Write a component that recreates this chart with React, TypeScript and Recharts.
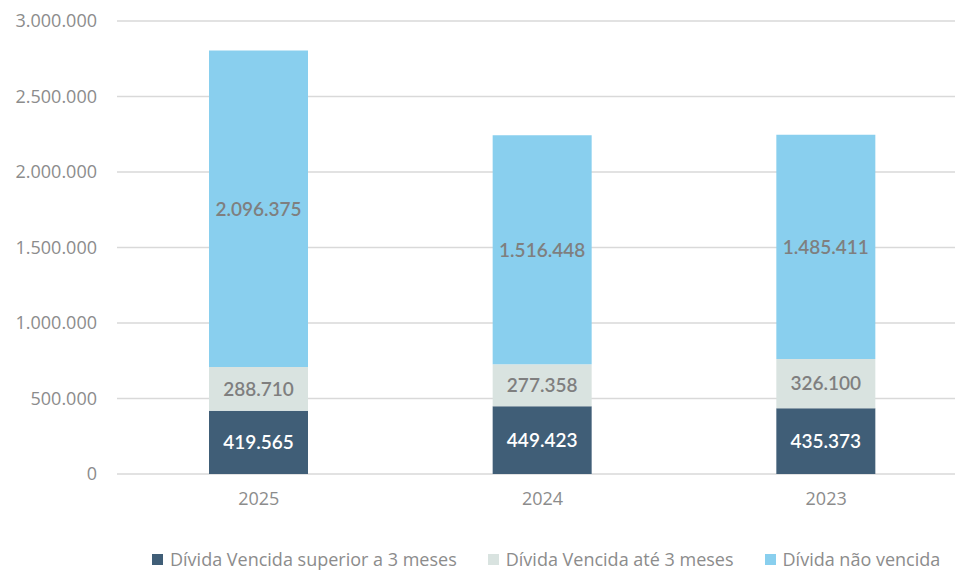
import { BarChart, Bar, XAxis, YAxis, CartesianGrid, Legend, LabelList } from "recharts";

const years = ["2025", "2024", "2023"];
const vencidaSuperior = [419565, 449423, 435373];
const vencidaAte3 = [288710, 277358, 326100];
const naoVencida = [2096375, 1516448, 1485411];
const yTicks = [0, 500000, 1000000, 1500000, 2000000, 2500000, 3000000];

const series = [
  { key: "superior", name: "Dívida Vencida superior a 3 meses", color: "#405E77", label: "#FFFFFF" },
  { key: "ate3", name: "Dívida Vencida até 3 meses", color: "#D9E3E0", label: "#7F7F7F" },
  { key: "naoVencida", name: "Dívida não vencida", color: "#89CFEE", label: "#7F7F7F" },
];

const data = years.map((year, i) => ({
  year,
  superior: vencidaSuperior[i],
  ate3: vencidaAte3[i],
  naoVencida: naoVencida[i],
}));

const fmt = (v: any) => String(v).replace(/\B(?=(\d{3})+(?!\d))/g, ".");

const font = "'Open Sans', sans-serif";

const LegendContent = () => (
  <div style={{ display: "flex", flexWrap: "nowrap", whiteSpace: "nowrap", paddingLeft: 152, fontFamily: font, fontSize: 18, color: "#8C8C8C" }}>
    {series.map((s) => (
      <div key={s.key} style={{ display: "flex", alignItems: "center", flexShrink: 0, marginRight: 31 }}>
        <span style={{ width: 11, height: 11, background: s.color, display: "inline-block", marginRight: 7 }} />
        <span>{s.name}</span>
      </div>
    ))}
  </div>
);

export default function App() {
  return (
    <div style={{ position: "fixed", left: 0, top: 0, width: 955, height: 571, overflow: "hidden", background: "#fff" }}>
      <BarChart width={968} height={571} data={data} margin={{ top: 21, right: 0, left: 0, bottom: 0 }}>
        <CartesianGrid vertical={false} stroke="#D9D9D9" strokeWidth={1.5} />
        <XAxis
          dataKey="year"
          axisLine={false}
          tickLine={false}
          tickMargin={12}
          height={73}
          tick={{ fill: "#8C8C8C", fontSize: 18, fontFamily: font }}
        />
        <YAxis
          width={117}
          domain={[0, 3000000]}
          ticks={yTicks}
          axisLine={false}
          tickLine={false}
          tickMargin={14}
          tickFormatter={fmt}
          tick={{ fill: "#8C8C8C", fontSize: 18, fontFamily: font }}
        />
        <Legend verticalAlign="bottom" wrapperStyle={{ width: 968, left: 0 }} content={<LegendContent />} />
        {series.map((s) => (
          <Bar key={s.key} dataKey={s.key} name={s.name} stackId="a" fill={s.color} barSize={99} isAnimationActive={false}>
            <LabelList
              dataKey={s.key}
              position="center"
              formatter={fmt}
              style={{ fill: s.label, fontSize: 19, fontFamily: "Lato, sans-serif", fontWeight: 600 }}
            />
          </Bar>
        ))}
      </BarChart>
    </div>
  );
}
